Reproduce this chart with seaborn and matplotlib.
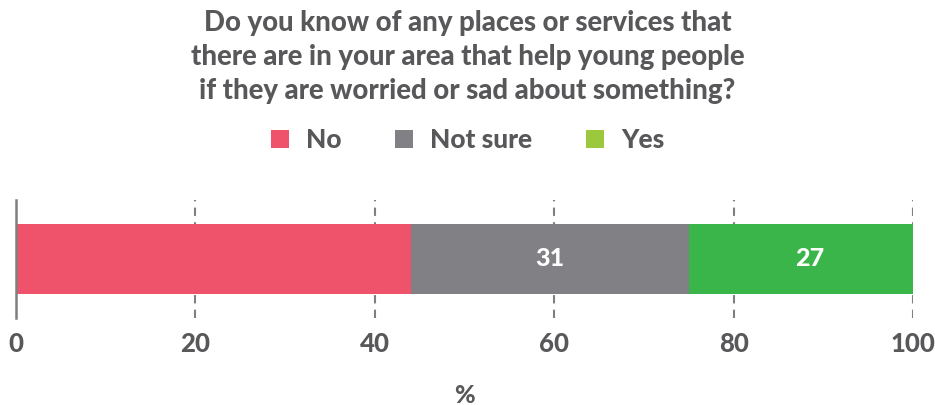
import matplotlib
matplotlib.use("Agg")
import matplotlib.pyplot as plt
from matplotlib.patches import Patch
import numpy as np
import pandas as pd
import seaborn as sns

# Survey responses (percent)
responses = ["No", "Not sure", "Yes"]
percent = [44, 31, 27]
show_value = [False, True, True]
bar_colors = ["#EF536B", "#808085", "#3AB54A"]
legend_colors = ["#EF536B", "#808085", "#9BC83C"]
ticks = [0, 20, 40, 60, 80, 100]

title = ("Do you know of any places or services that\n"
         "there are in your area that help young people\n"
         "if they are worried or sad about something?")

text_color = "#58585B"
sns.set_theme(style="white")
plt.rcParams["font.family"] = ["Lato", "DejaVu Sans"]
W = 900

fig = plt.figure(figsize=(9.35, 4.05), dpi=100)
ax = fig.add_axes([16 / 935, 1 - 318 / 405, (913 - 16) / 935, 118 / 405])

# Stacked bar: draw cumulative totals from the outermost segment inwards
cum = np.cumsum(percent)
for i in reversed(range(len(responses))):
    df = pd.DataFrame({"group": [""], "value": [cum[i]]})
    sns.barplot(data=df, x="value", y="group", orient="h", color=bar_colors[i],
                saturation=1, width=0.59, ax=ax, linewidth=0)

starts = cum - np.array(percent)
for s, p, show in zip(starts, percent, show_value):
    if show:
        ax.text(s + p / 2, 0, f"{p}", ha="center", va="center", color="white",
                fontsize=18, fontweight=W)

ax.set_xlim(0, 100)
ax.set_ylim(0.5, -0.5)
ax.set_xticks(ticks)
ax.set_xticklabels([str(t) for t in ticks])
ax.set_ylabel("")
ax.set_yticks([])
ax.set_xlabel("%", fontsize=18, fontweight=W, color=text_color, labelpad=20)
ax.tick_params(axis="x", length=0, pad=10, labelsize=18.5, labelcolor=text_color)
for lab in ax.get_xticklabels():
    lab.set_fontweight(W)

for t in ticks[1:]:
    ax.axvline(t, color="#7F7F7F", linestyle=(0, (4, 3)), linewidth=1.5, zorder=0)
for side in ["top", "right", "bottom"]:
    ax.spines[side].set_visible(False)
ax.spines["left"].set_color("#7F7F7F")
ax.spines["left"].set_linewidth(1.8)

fig.text(0.5, 1 - 57 / 405, title, ha="center", va="center", fontsize=19.8,
         fontweight=W, color=text_color, linespacing=1.38)

handles = [Patch(facecolor=c, edgecolor="none") for c in legend_colors]
leg = fig.legend(handles, responses, loc="center", bbox_to_anchor=(0.5, 1 - 140 / 405),
                 ncol=3, frameon=False, prop={"size": 19, "weight": W},
                 handlelength=0.68, handleheight=0.68, handletextpad=0.64,
                 columnspacing=2.05)
for txt in leg.get_texts():
    txt.set_color(text_color)

fig.savefig("out.png", dpi=100)
